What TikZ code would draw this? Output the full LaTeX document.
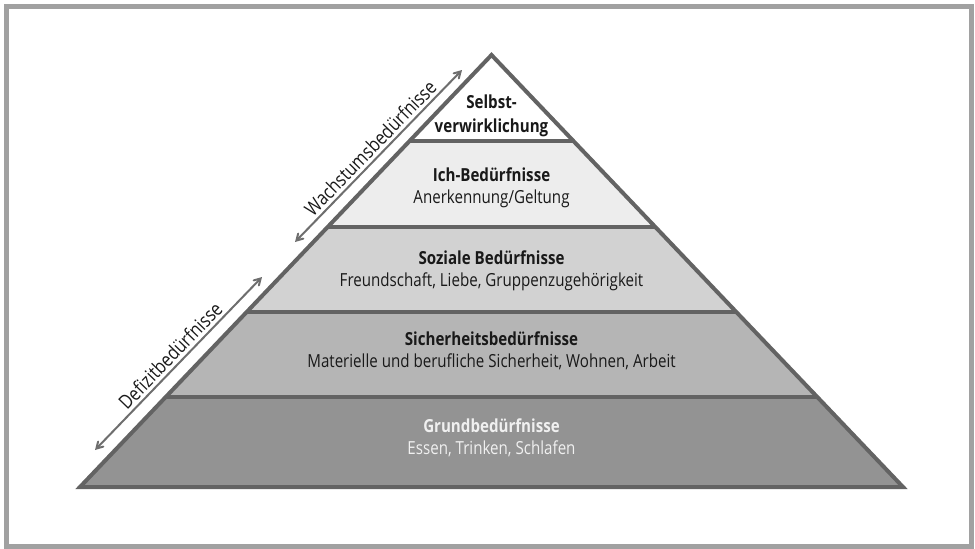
\documentclass[tikz,border=0pt]{standalone}
\usepackage{fontspec}
\setmainfont{Open Sans}[FakeStretch=0.84]
\usetikzlibrary{positioning,arrows,calc}
\definecolor{frame-gray}{gray}{0.63}
\definecolor{edge-gray}{gray}{0.39}
\definecolor{arrow-gray}{gray}{0.43}
\definecolor{level-one}{gray}{0.93}
\definecolor{level-two}{gray}{0.825}
\definecolor{level-three}{gray}{0.71}
\definecolor{level-four}{gray}{0.575}
\definecolor{text-dark}{gray}{0.1}
\tikzstyle{edgestyle}=[draw=edge-gray,line width=4pt,line join=miter]
\tikzstyle{headstyle}=[anchor=base,inner sep=0pt,font=\fontsize{18}{21}\selectfont\bfseries]
\tikzstyle{substyle}=[anchor=base,inner sep=0pt,font=\fontsize{18}{21}\selectfont]
\tikzstyle{sidestyle}=[draw=arrow-gray,line width=2pt,<->,>=angle 60]
\tikzstyle{sidelabel}=[sloped,above=2pt,inner sep=1pt,text=text-dark,font=\fontsize{19.5}{22}\selectfont]
\newcommand{\pyrband}[3]{ \fill[#3] ($(apex)!#1!(baseL)$) -- ($(apex)!#2!(baseL)$) -- ($(apex)!#2!(baseR)$) -- ($(apex)!#1!(baseR)$) -- cycle; }
\newcommand{\pyrlabel}[5]{ \node[headstyle,text=#5] (#1head) at (491.5,#2) {#3}; \node[substyle,text=#5] (#1sub) at (491.5,#2+22) {#4}; }

\begin{document}
\begin{tikzpicture}[x=1pt,y=-1pt]
\useasboundingbox (0,0) rectangle (975,549);
\draw[frame-gray,line width=5pt] (6.5,6.5) rectangle (971.5,546.5);
\coordinate (apex) at (491.5,55);
\coordinate (baseL) at (80,487);
\coordinate (baseR) at (903,487);
\pyrband{0}{0.2}{white} %
\pyrband{0.2}{0.398}{level-one} %
\pyrband{0.398}{0.595}{level-two} %
\pyrband{0.595}{0.792}{level-three} %
\pyrband{0.792}{1}{level-four} %
\foreach \t in {0.2,0.398,0.595,0.792}
  \draw[edgestyle] ($(apex)!\t!(baseL)$) -- ($(apex)!\t!(baseR)$);
\draw[edgestyle] (apex) -- (baseL) -- (baseR) -- cycle;
\node[headstyle,text=text-dark] (selbsthead) at (491.5,108) {Selbst-};
\node[headstyle,text=text-dark] (selbstsub) at (491.5,132) {verwirklichung};
\pyrlabel{ich}{181}{Ich-Bedürfnisse}{Anerkennung/Geltung}{text-dark} %
\pyrlabel{sozial}{264}{Soziale Bedürfnisse}{Freundschaft, Liebe, Gruppenzugehörigkeit}{text-dark} %
\pyrlabel{sicher}{345}{Sicherheitsbedürfnisse}{Materielle und berufliche Sicherheit, Wohnen, Arbeit}{text-dark} %
\pyrlabel{grund}{432}{Grundbedürfnisse}{Essen, Trinken, Schlafen}{white!94!black} %
\coordinate (wachsA) at (295,242);
\coordinate (wachsB) at (462,70);
\coordinate (defizA) at (95,450);
\coordinate (defizB) at (262,277);
\draw[sidestyle] (wachsA) -- node[sidelabel] (wachslabel) {Wachstumsbedürfnisse} (wachsB);
\draw[sidestyle] (defizA) -- node[sidelabel] (defizlabel) {Defizitbedürfnisse} (defizB);
\end{tikzpicture}
\end{document}
